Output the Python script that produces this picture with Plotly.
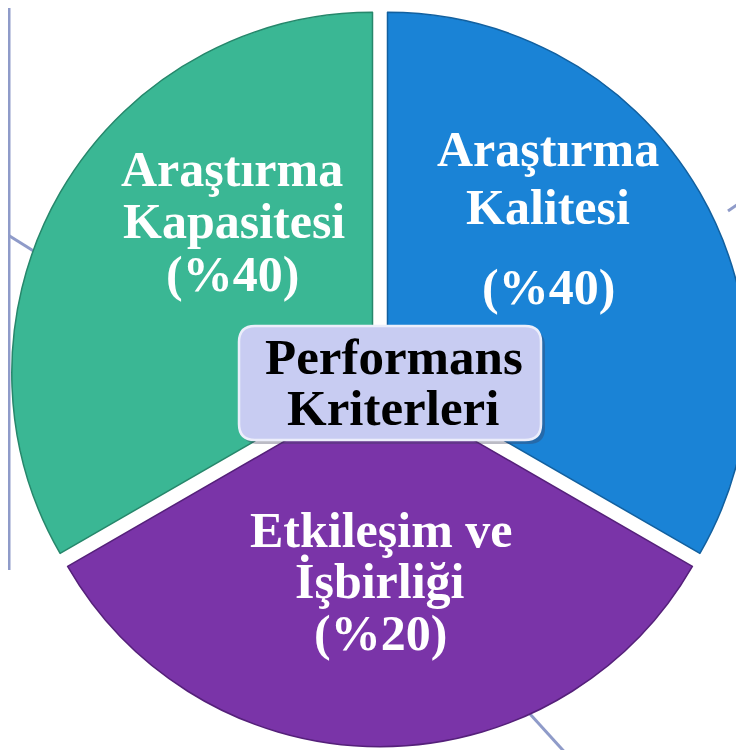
import plotly.graph_objects as go

# ---- data ----
categories = ["Araştırma Kalitesi", "Etkileşim ve İşbirliği", "Araştırma Kapasitesi"]
weights = ["%40", "%20", "%40"]                # printed weights
segment_sizes = [1, 1, 1]                     # the three segments are drawn equal
label_lines = [
    ["Araştırma", "Kalitesi", "(%40)"],
    ["Etkileşim ve", "İşbirliği", "(%20)"],
    ["Araştırma", "Kapasitesi", "(%40)"],
]
center_lines = ["Performans", "Kriterleri"]

colors = ["#1a83d6", "#7a34a8", "#3ab794"]
edge_colors = ["#12609f", "#55207a", "#26876b"]

W, H = 744, 750
OFF = 8  # page offset of the figure (default body margin)

def px(x):
    return (x - OFF) / W

def py(y):
    return 1 - (y - OFF) / H

fig = go.Figure()
fig.add_trace(go.Pie(
    labels=categories,
    values=segment_sizes,
    sort=False,
    direction="clockwise",
    rotation=0,
    pull=[0.024, 0.024, 0.024],
    marker=dict(colors=colors, line=dict(color=edge_colors, width=1.5)),
    textinfo="none",
    hoverinfo="skip",
    showlegend=False,
    domain=dict(x=[0, 1], y=[0.015, 1]),
))

# label text positions (page-pixel centres of each line)
line_pos = [
    [(548, 149), (548, 207), (548, 287)],
    [(381, 530), (380, 581), (380, 633)],
    [(232, 169), (234, 221), (232, 274)],
]
annotations = []
for lines, poss in zip(label_lines, line_pos):
    for t, (x, y) in zip(lines, poss):
        annotations.append(dict(
            x=px(x), y=py(y), xref="paper", yref="paper", text=t,
            showarrow=False, xanchor="center", yanchor="middle",
            font=dict(family="Liberation Serif", size=50, color="white", weight="bold"),
        ))

for t, (x, y) in zip(center_lines, [(394, 357), (393, 408)]):
    annotations.append(dict(
        x=px(x), y=py(y), xref="paper", yref="paper", text=t,
        showarrow=False, xanchor="center", yanchor="middle",
        font=dict(family="Liberation Serif", size=51, color="black", weight="bold"),
    ))


def rounded_rect(x0, y0, x1, y1, r):
    rx, ry = r / W, r / H
    X0, X1 = px(x0), px(x1)
    Y0, Y1 = py(y0), py(y1)  # Y0 top, Y1 bottom
    return (f"M {X0+rx},{Y0} L {X1-rx},{Y0} Q {X1},{Y0} {X1},{Y0-ry} "
            f"L {X1},{Y1+ry} Q {X1},{Y1} {X1-rx},{Y1} "
            f"L {X0+rx},{Y1} Q {X0},{Y1} {X0},{Y1+ry} "
            f"L {X0},{Y0-ry} Q {X0},{Y0} {X0+rx},{Y0} Z")

deco = "#8f9bc9"
shapes = [
    # background connector fragments
    dict(type="line", xref="paper", yref="paper", layer="below",
         x0=px(9), y0=py(8), x1=px(9), y1=py(570), line=dict(color=deco, width=3)),
    dict(type="line", xref="paper", yref="paper", layer="below",
         x0=px(8), y0=py(235), x1=px(40), y1=py(255), line=dict(color=deco, width=3)),
    dict(type="line", xref="paper", yref="paper", layer="below",
         x0=px(728), y0=py(211), x1=px(760), y1=py(189), line=dict(color=deco, width=3)),
    dict(type="line", xref="paper", yref="paper", layer="below",
         x0=px(530), y0=py(714), x1=px(570), y1=py(758), line=dict(color=deco, width=3)),
    # centre box shadow + box
    dict(type="path", xref="paper", yref="paper", layer="above",
         path=rounded_rect(242, 330, 545, 444, 16),
         fillcolor="rgba(60,60,90,0.35)", line=dict(width=0)),
    dict(type="path", xref="paper", yref="paper", layer="above",
         path=rounded_rect(239, 326, 541, 440, 16),
         fillcolor="#c8ccf2", line=dict(color="#eceefb", width=2.5)),
]

fig.update_layout(
    width=W, height=H,
    margin=dict(l=0, r=0, t=0, b=0),
    paper_bgcolor="white",
    plot_bgcolor="white",
    shapes=shapes,
    annotations=annotations,
)

fig.write_html("out.html")
